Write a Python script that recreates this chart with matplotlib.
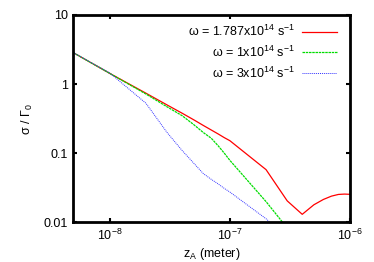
import numpy as np
import matplotlib
matplotlib.use("Agg")
import matplotlib.pyplot as plt
from matplotlib.ticker import FixedLocator, FixedFormatter, NullLocator

plt.rcParams['font.family'] = ['Liberation Sans', 'DejaVu Sans']
plt.rcParams['mathtext.fontset'] = 'custom'
plt.rcParams['mathtext.rm'] = 'Liberation Sans'
plt.rcParams['mathtext.default'] = 'regular'

# distance from surface (m)
z_red = [5e-9, 1e-8, 2e-8, 3e-8, 4e-8, 5e-8, 6e-8, 7e-8, 8e-8, 9e-8, 1e-7,
         2e-7, 3e-7, 4e-7, 5e-7, 6e-7, 7e-7, 8e-7, 9e-7, 1e-6]
z_short = [5e-9, 1e-8, 2e-8, 3e-8, 4e-8, 5e-8, 6e-8, 7e-8, 8e-8, 9e-8, 1e-7,
           2e-7, 3e-7]

# sigma / Gamma_0
s_1787 = [2.84, 1.43, 0.74, 0.50, 0.38, 0.305, 0.253, 0.217, 0.19, 0.168, 0.152,
          0.058, 0.0205, 0.0131, 0.018, 0.0215, 0.024, 0.0254, 0.0257, 0.0255]
s_1 = [2.84, 1.43, 0.72, 0.47, 0.35, 0.26, 0.20, 0.165, 0.128, 0.10, 0.079,
       0.02, 0.0083]
s_3 = [2.84, 1.45, 0.53, 0.20, 0.11, 0.072, 0.051, 0.042, 0.036, 0.031, 0.0275,
       0.0113, 0.006]

labels = [r'ω = 1.787x10$^{14}$ s$^{-1}$',
          r'ω = 1x10$^{14}$ s$^{-1}$',
          r'ω = 3x10$^{14}$ s$^{-1}$']

xticks = [1e-8, 1e-7, 1e-6]
xticklabels = [r'10$^{-8}$', r'10$^{-7}$', r'10$^{-6}$']
yticks = [0.01, 0.1, 1, 10]
yticklabels = ['0.01', '0.1', '1', '10']

fig = plt.figure(figsize=(3.74, 2.62), dpi=100)
ax = fig.add_axes([0.1965, 0.151, 0.7395, 0.792])

ax.plot(z_red, s_1787, color='#ff0000', lw=0.9, ls='-', label=labels[0])
ax.plot(z_short, s_1, color='#00dd00', lw=0.9, ls=(0, (2, 0.6)), label=labels[1])
ax.plot(z_short, s_3, color='#3333ff', lw=0.7, ls=(0, (1, 1)), label=labels[2])

ax.set_xscale('log')
ax.set_yscale('log')
ax.set_xlim(5e-9, 1e-6)
ax.set_ylim(0.01, 10)

ax.xaxis.set_major_locator(FixedLocator(xticks))
ax.xaxis.set_major_formatter(FixedFormatter(xticklabels))
ax.yaxis.set_major_locator(FixedLocator(yticks))
ax.yaxis.set_major_formatter(FixedFormatter(yticklabels))
ax.xaxis.set_minor_locator(NullLocator())
ax.yaxis.set_minor_locator(NullLocator())

ax.tick_params(which='major', direction='in', length=3, width=1.5,
               top=True, right=True, labelsize=9, pad=4)
for sp in ax.spines.values():
    sp.set_linewidth(2)

ax.set_xlabel('z$_A$ (meter)', fontsize=9, labelpad=2)
ax.set_ylabel('σ / Γ$_0$', fontsize=9, labelpad=6)

ax.legend(loc='upper right', frameon=False, markerfirst=False, fontsize=9,
          handlelength=2.8, handletextpad=0.6, labelspacing=0.45,
          borderaxespad=0.3, bbox_to_anchor=(0.985, 1.0))

fig.savefig('out.png', dpi=100)
